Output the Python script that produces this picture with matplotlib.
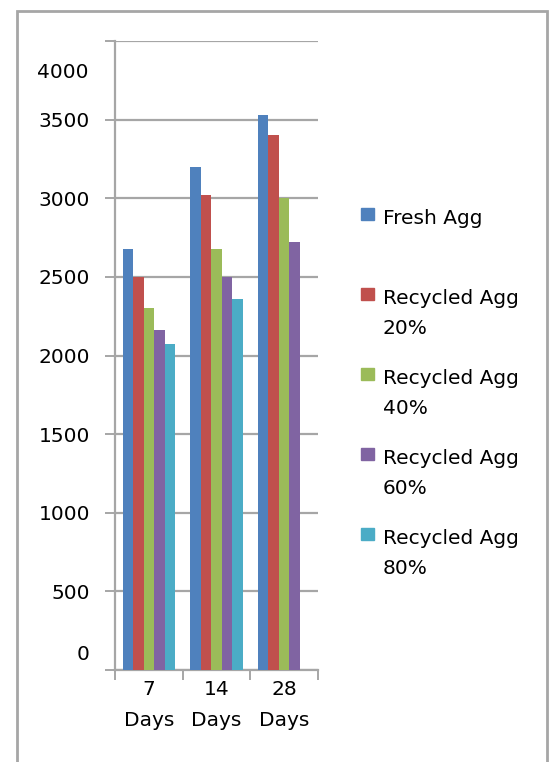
import matplotlib.pyplot as plt
from matplotlib.patches import Rectangle
import numpy as np

# compressive strength by curing age
ages = ['7\nDays', '14\nDays', '28\nDays']
series = ['Fresh Agg', 'Recycled Agg\n20%', 'Recycled Agg\n40%',
          'Recycled Agg\n60%', 'Recycled Agg\n80%']
fresh = [2680, 3200, 3530]
rec20 = [2500, 3020, 3400]
rec40 = [2300, 2680, 3000]
rec60 = [2160, 2500, 2720]
rec80 = [2070, 2360, 0]
colours = ['#4F81BD', '#C0504D', '#9BBB59', '#8064A2', '#4BACC6']
yticks = [0, 500, 1000, 1500, 2000, 2500, 3000, 3500, 4000]

W, H = 549, 762
plt.rcParams['font.family'] = 'DejaVu Sans'
plt.rcParams['font.size'] = 14.5
grey = '#a6a6a6'

fig = plt.figure(figsize=(W / 100, H / 100), dpi=100)
ax = fig.add_axes([115 / W, 1 - 670 / H, (318 - 115) / W, (670 - 41) / H])

def fx(px):
    return px / W

def fy(py):
    return 1 - py / H

# outer frame (bottom edge runs off the page)
fig.patches.append(Rectangle((fx(16.5), fy(800)), fx(547) - fx(16.5), fy(11.5) - fy(800),
                             transform=fig.transFigure, fill=False, edgecolor=grey,
                             linewidth=2, clip_on=False))

x = np.arange(len(ages))
w = 0.155
for i, (vals, c) in enumerate(zip([fresh, rec20, rec40, rec60, rec80], colours)):
    ax.bar(x + (i - 2) * w, vals, width=w, color=c, zorder=3)

ax.set_xlim(-0.5, 2.5)
ax.set_ylim(0, 4000)
ax.set_yticks(yticks)
ax.set_yticklabels([''] + [str(v) for v in yticks[1:-1]] + [''])
ax.yaxis.grid(True, color=grey, linewidth=1.6, zorder=0)
ax.tick_params(axis='y', length=7.5, width=1.4, color=grey, pad=10.5)
ax.set_xticks([-0.5, 0.5, 1.5, 2.5])
ax.set_xticklabels([])
ax.set_xticks(x, minor=True)
ax.set_xticklabels(ages, minor=True, linespacing=1.8)
ax.tick_params(axis='x', which='major', length=7.5, width=1.4, color=grey)
ax.tick_params(axis='x', which='minor', length=0, pad=7.5)
for s in ['top', 'right']:
    ax.spines[s].set_visible(False)
for s in ['left', 'bottom']:
    ax.spines[s].set_color(grey)
    ax.spines[s].set_linewidth(1.6)

# end labels sit inside the range
ax.annotate('0', xy=(0, 0), xycoords=('axes fraction', 'data'), xytext=(-26, 16),
            textcoords='offset pixels', ha='right', va='center')
ax.annotate('4000', xy=(0, 4000), xycoords=('axes fraction', 'data'), xytext=(-26, -32),
            textcoords='offset pixels', ha='right', va='center')

# legend
for i, (name, c) in enumerate(zip(series, colours)):
    base = 224 + 80 * i
    fig.patches.append(Rectangle((fx(361), fy(base - 4)), fx(13), fy(0) - fy(12),
                                 transform=fig.transFigure, color=c))
    last = base + 30 * name.count('\n')
    fig.text(fx(383), fy(last), name, ha='left', va='baseline', linespacing=1.7)

fig.savefig('out.png', dpi=100)
